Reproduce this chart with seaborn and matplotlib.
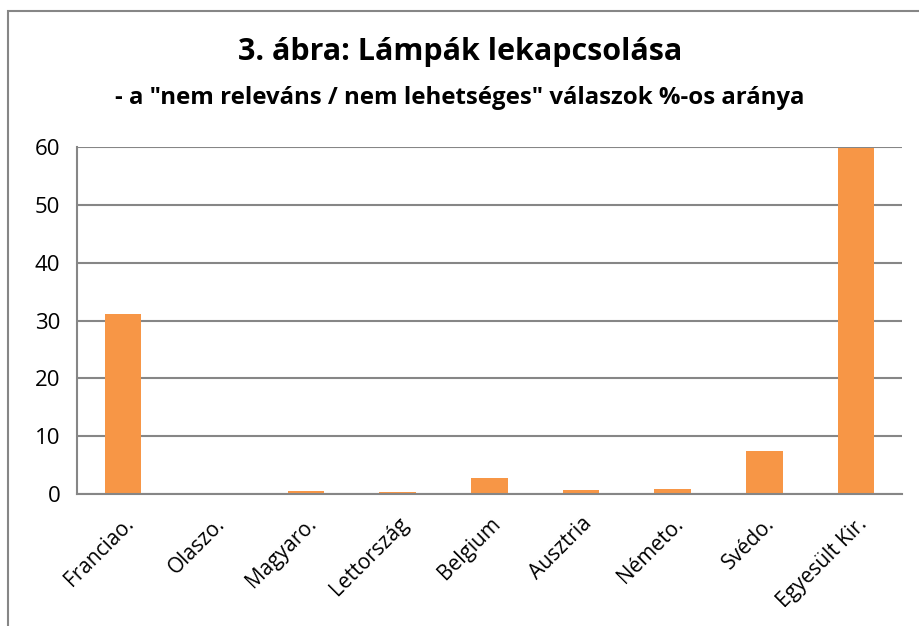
import pandas as pd
import seaborn as sns
import matplotlib.pyplot as plt
from matplotlib.patches import Rectangle

# Adatok (leolvasva az ábráról)
countries = ['Franciao.', 'Olaszo.', 'Magyaro.', 'Lettország', 'Belgium',
             'Ausztria', 'Németo.', 'Svédo.', 'Egyesült Kir.']
values = [31.2, 0.0, 0.45, 0.35, 2.8, 0.7, 0.85, 7.4, 59.8]

df = pd.DataFrame({'Country': countries, 'Value': values})

sns.set_style("white")
plt.rcParams['font.family'] = ['Open Sans', 'DejaVu Sans']
plt.rcParams['text.color'] = 'black'
plt.rcParams['xtick.labelcolor'] = 'black'
plt.rcParams['ytick.labelcolor'] = 'black'

fig = plt.figure(figsize=(9.2, 6.26), dpi=100)
ax = fig.add_axes([0.0837, 0.211, 0.8967, 0.554])

sns.barplot(x='Country', y='Value', data=df, color='#F79646', saturation=1,
            width=0.4, ax=ax, linewidth=0, zorder=2)

ax.set_ylim(0, 60)
ax.set_xlim(-0.5, len(countries) - 0.5)
ax.set_yticks(range(0, 61, 10))
ax.yaxis.grid(True, color='#868686', linewidth=1.5)
ax.set_axisbelow(True)
for s in ['top', 'right']:
    ax.spines[s].set_visible(False)
for s in ['left', 'bottom']:
    ax.spines[s].set_color('#868686')
    ax.spines[s].set_linewidth(1.5)

ax.tick_params(axis='y', length=8, width=1.5, color='#868686', labelsize=16, pad=4,
               labelcolor='black')
ax.tick_params(axis='x', which='major', length=0, labelsize=15, pad=14,
               labelcolor='black')
ax.set_xticks([i - 0.5 for i in range(len(countries) + 1)], minor=True)
ax.tick_params(axis='x', which='minor', length=7, width=1.5, color='#868686')
plt.setp(ax.get_xticklabels(), rotation=45, ha='right', rotation_mode='anchor')
ax.set_xlabel('')
ax.set_ylabel('')

fig.text(0.5, 0.917, '3. ábra: Lámpák lekapcsolása', ha='center', va='center',
         fontsize=22, fontweight='bold', color='black')
fig.text(0.5, 0.843, '- a "nem releváns / nem lehetséges" válaszok %-os aránya',
         ha='center', va='center', fontsize=17.3, fontweight='bold', color='black')

# külső keret
fig.patches.append(Rectangle((0.009, -0.01), 1.0, 0.992, transform=fig.transFigure,
                             fill=False, edgecolor='#868686', linewidth=1.5))

plt.savefig('out.png', dpi=100)
